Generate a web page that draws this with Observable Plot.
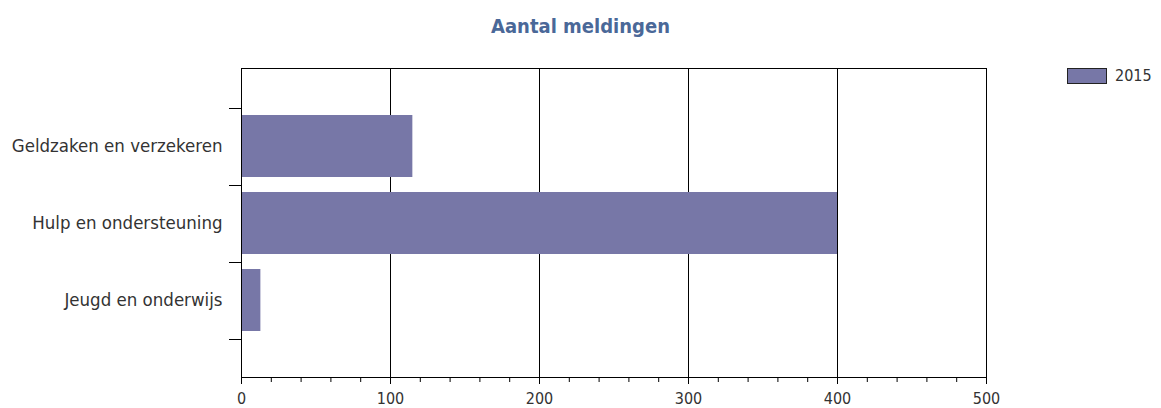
<!DOCTYPE html>
<html>
<head>
<meta charset="utf-8">
<script src="https://cdn.jsdelivr.net/npm/d3@7"></script>
<script src="https://cdn.jsdelivr.net/npm/@observablehq/plot@0.6"></script>
<style>
  html, body { margin: 0; padding: 0; background: #fff; }
  #wrap { position: relative; width: 1161px; height: 408px; font-family: "DejaVu Sans Condensed", "DejaVu Sans", sans-serif; }
  #title { position: absolute; left: 0; top: 14px; width: 1161px; text-align: center; font-size: 20px; font-weight: bold; color: #4a6898; }
  #legend { position: absolute; left: 1067px; top: 66px; display: flex; align-items: center; font-size: 16px; color: #333; }
  #legend .sw { width: 38px; height: 14px; background: #7777a7; border: 1px solid #222; margin-right: 8px; }
  #chart { position: absolute; left: 0; top: 0; }
</style>
</head>
<body>
<div id="wrap">
  <div id="chart"></div>
  <div id="title">Aantal meldingen</div>
  <div id="legend"><div class="sw"></div><span id="legendLabel"></span></div>
</div>
<script>
const categories = ["Geldzaken en verzekeren", "Hulp en ondersteuning", "Jeugd en onderwijs"];
const values2015 = [115, 400, 13];
const seriesName = "2015";
const majorTicks = [0, 100, 200, 300, 400, 500];
const minorTicks = d3.range(0, 501, 20);
const gridValues = [100, 200, 300, 400];

const data = categories.map((c, i) => ({category: c, value: values2015[i]}));
document.getElementById("legendLabel").textContent = seriesName;

const boundaryTicks = (index, scales, values, dimensions) => {
  const y = scales.y;
  const bw = y.bandwidth ? y.bandwidth() : 0;
  const step = categories.length > 1 ? y(categories[1]) - y(categories[0]) : bw;
  const gap = (step - bw) / 2;
  const ys = categories.map(c => y(c) - gap);
  ys.push(y(categories[categories.length - 1]) + bw + gap);
  const g = d3.create("svg:g");
  const x0 = dimensions.marginLeft;
  g.selectAll("line").data(ys).join("line")
    .attr("x1", x0 - 12).attr("x2", x0)
    .attr("y1", d => Math.round(d) + 0.5).attr("y2", d => Math.round(d) + 0.5)
    .attr("stroke", "#000").attr("stroke-width", 1);
  return g.node();
};

const chart = Plot.plot({
  width: 1161,
  height: 408,
  marginLeft: 241,
  marginRight: 175,
  marginTop: 68,
  marginBottom: 31,
  style: {fontFamily: "'DejaVu Sans Condensed', 'DejaVu Sans', sans-serif", background: "transparent", color: "#333"},
  x: {domain: [0, 500]},
  y: {domain: categories, paddingInner: 0.2, paddingOuter: 0.6},
  marks: [
    Plot.ruleX(gridValues, {stroke: "#000", strokeWidth: 1}),
    Plot.barX(data, {x: "value", y: "category", fill: "#7777a7"}),
    Plot.frame({stroke: "#000", strokeWidth: 1}),
    Plot.axisX({ticks: minorTicks, tickSize: 5, text: null, stroke: "#000", anchor: "bottom", label: null}),
    Plot.axisX({ticks: majorTicks, tickSize: 7, tickPadding: 8, fontSize: 16, fill: "#333", stroke: "#000", anchor: "bottom", label: null}),
    Plot.axisY({tickSize: 0, tickPadding: 19, fontSize: 18.5, fill: "#333", label: null}),
    boundaryTicks
  ]
});
document.getElementById("chart").appendChild(chart);
</script>
</body>
</html>
